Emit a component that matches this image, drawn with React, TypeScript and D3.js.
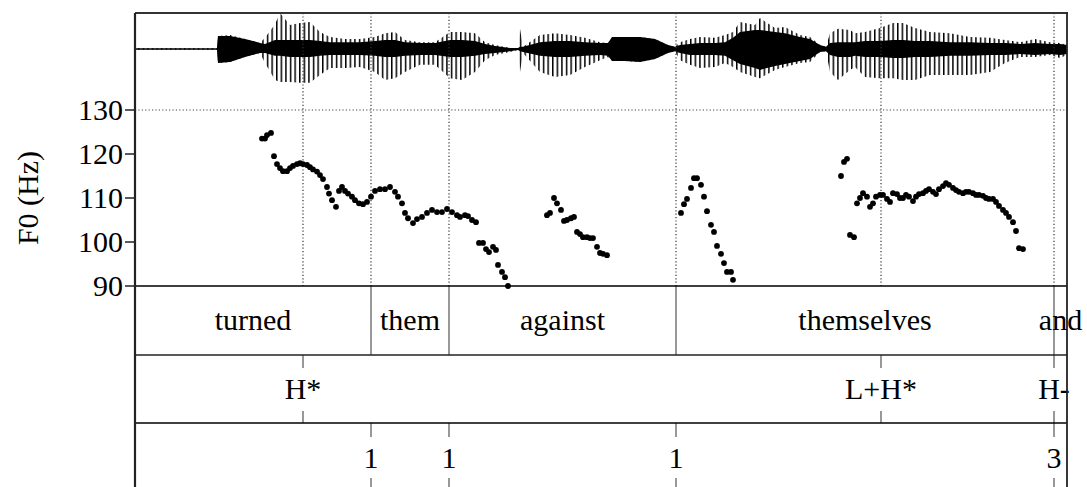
import React from "react";
import * as d3 from "d3";

// time in ms, F0 in Hz (each array is one voiced stretch)
const f0Seg1: [number, number][] = [
  [254, 123.5], [260, 123.5], [264, 124.3], [272, 124.8], [278, 119.5], [284, 117.7], [290, 116.8], [296, 116.1],
  [304, 116.1], [310, 116.8], [316, 117.3], [324, 117.7], [330, 117.9], [336, 117.7], [344, 117.5], [350, 117],
  [356, 116.5], [364, 116], [370, 115.2], [376, 114.3], [384, 112.5], [388, 111], [394, 109.5], [402, 108],
];
const f0Seg2: [number, number][] = [
  [408, 111.6], [414, 112.5], [420, 111.6], [426, 111], [434, 110.3], [440, 109.5], [448, 108.8], [456, 108.6],
  [464, 109.1], [472, 110.3], [480, 111.6], [490, 112], [500, 112], [510, 112.5], [520, 111.4], [526, 110.3],
  [534, 108.8], [540, 106.6], [546, 105.4], [556, 104.3], [564, 105.2], [574, 105.7], [584, 106.6], [594, 107.3],
  [604, 106.8], [614, 106.8], [624, 107.5], [634, 106.8], [644, 106.1], [650, 105.7], [660, 106.1], [666, 105.9],
  [674, 105], [682, 104.5],
];
const f0Seg3: [number, number][] = [
  [688, 99.8], [696, 99.8], [702, 98.4], [708, 97.7], [716, 98.9], [722, 98.2], [726, 94.8], [734, 93.2],
  [740, 92], [746, 90],
];
const f0Seg4: [number, number][] = [
  [824, 106.1], [830, 106.6], [838, 110], [844, 108.8], [852, 107.3], [858, 104.8], [864, 105], [872, 105.4],
  [878, 105.7], [884, 102.3], [890, 101.8], [896, 101.1], [904, 101.1], [910, 100.9], [916, 100.9], [924, 98.9],
  [930, 97.5], [936, 97.3], [944, 97],
];
const f0Seg5: [number, number][] = [
  [1092, 106.6], [1098, 108.6], [1104, 109.8], [1112, 112.3], [1118, 114.5], [1124, 114.5], [1132, 113], [1138, 110.3],
  [1144, 107], [1152, 103.9], [1158, 102.3], [1164, 99.1], [1172, 97.3], [1178, 95.2], [1184, 93.2], [1192, 93.2],
  [1196, 91.4],
];
const f0Seg6: [number, number][] = [
  [1412, 115], [1418, 118.2], [1424, 118.9], [1430, 101.6], [1438, 101.1], [1444, 108.8], [1450, 110], [1456, 111.1],
  [1464, 110.3], [1470, 108], [1476, 108.8], [1482, 110.3], [1490, 110.7], [1496, 110.7], [1504, 109.8], [1510, 109.1],
  [1516, 111.1], [1524, 110.9], [1530, 110], [1536, 110], [1542, 110.7], [1548, 110.3], [1556, 109.3], [1562, 110.3],
  [1568, 110.9], [1576, 111.1], [1582, 111.6], [1588, 112], [1596, 111.4], [1602, 110.9], [1608, 112], [1616, 112.7],
  [1622, 113.4], [1628, 113], [1636, 112.3], [1642, 111.8], [1648, 111.4], [1656, 111.1], [1662, 111.4], [1668, 111.4],
  [1676, 111.1], [1682, 110.7], [1688, 110.7], [1696, 110.5], [1702, 110], [1708, 109.8], [1716, 109.8], [1722, 109.1],
  [1728, 108.2], [1736, 107.3], [1742, 106.6], [1748, 105.7], [1756, 104.5], [1762, 102.5], [1768, 98.6], [1776, 98.4],
];

// waveform envelope: [time ms, peak max, peak min, body max, body min] (normalized amplitude)
const waveEnvelope: [number, number, number, number, number][] = [
  [0, 0.02, -0.02, 0.02, -0.02], [164, 0.02, -0.02, 0.02, -0.02], [166, 0.36, -0.39, 0.36, -0.39],
  [190, 0.39, -0.36, 0.36, -0.36], [220, 0.28, -0.22, 0.28, -0.22], [250, 0.17, -0.11, 0.17, -0.11],
  [260, 0.31, -0.39, 0.14, -0.11], [280, 0.69, -0.86, 0.25, -0.19], [290, 1.0, -0.92, 0.25, -0.19],
  [310, 0.67, -0.92, 0.25, -0.22], [330, 0.72, -0.94, 0.25, -0.22], [350, 0.75, -0.94, 0.25, -0.22],
  [370, 0.47, -0.72, 0.22, -0.19], [390, 0.33, -0.53, 0.19, -0.17], [420, 0.28, -0.53, 0.19, -0.17],
  [450, 0.28, -0.5, 0.19, -0.17], [480, 0.33, -0.64, 0.22, -0.19], [500, 0.44, -0.86, 0.25, -0.22],
  [520, 0.47, -0.81, 0.25, -0.22], [540, 0.25, -0.64, 0.19, -0.19], [570, 0.19, -0.44, 0.17, -0.17],
  [600, 0.19, -0.44, 0.17, -0.17], [630, 0.47, -0.81, 0.25, -0.22], [654, 0.47, -0.86, 0.25, -0.22],
  [680, 0.44, -0.64, 0.22, -0.19], [700, 0.19, -0.31, 0.14, -0.14], [720, 0.11, -0.17, 0.08, -0.11],
  [750, 0.03, -0.08, 0.03, -0.06], [766, 0.03, -0.03, 0.03, -0.03], [770, 0.56, -0.64, 0.06, -0.06],
  [776, 0.06, -0.11, 0.06, -0.08], [810, 0.39, -0.64, 0.19, -0.19], [840, 0.44, -0.78, 0.22, -0.22],
  [870, 0.39, -0.72, 0.22, -0.22], [900, 0.31, -0.5, 0.19, -0.19], [930, 0.19, -0.31, 0.17, -0.17],
  [946, 0.17, -0.22, 0.17, -0.19], [954, 0.33, -0.33, 0.33, -0.33], [980, 0.33, -0.33, 0.33, -0.33],
  [1010, 0.33, -0.36, 0.33, -0.36], [1040, 0.28, -0.28, 0.28, -0.28], [1066, 0.11, -0.11, 0.11, -0.11],
  [1080, 0.06, -0.06, 0.06, -0.06], [1090, 0.19, -0.31, 0.11, -0.11], [1110, 0.28, -0.44, 0.14, -0.17],
  [1130, 0.33, -0.53, 0.17, -0.17], [1160, 0.31, -0.5, 0.17, -0.17], [1180, 0.39, -0.39, 0.19, -0.19],
  [1196, 0.47, -0.5, 0.31, -0.31], [1210, 0.75, -0.64, 0.47, -0.42], [1240, 0.67, -0.78, 0.53, -0.53],
  [1250, 0.86, -0.81, 0.53, -0.58], [1280, 0.58, -0.58, 0.47, -0.47], [1300, 0.61, -0.5, 0.44, -0.42],
  [1330, 0.39, -0.39, 0.33, -0.33], [1350, 0.33, -0.36, 0.28, -0.28], [1370, 0.11, -0.08, 0.11, -0.08],
  [1382, 0.06, -0.06, 0.06, -0.06], [1390, 0.44, -0.64, 0.17, -0.17], [1406, 0.56, -0.86, 0.19, -0.22],
  [1430, 0.53, -0.58, 0.19, -0.22], [1440, 0.44, -0.5, 0.19, -0.19], [1460, 0.47, -0.78, 0.22, -0.22],
  [1490, 0.58, -0.81, 0.22, -0.22], [1516, 0.72, -0.81, 0.25, -0.25], [1536, 0.72, -0.86, 0.25, -0.25],
  [1560, 0.58, -0.86, 0.22, -0.22], [1590, 0.47, -0.72, 0.22, -0.22], [1630, 0.44, -0.72, 0.19, -0.19],
  [1670, 0.33, -0.72, 0.19, -0.19], [1710, 0.31, -0.64, 0.17, -0.17], [1740, 0.25, -0.39, 0.17, -0.17],
  [1770, 0.19, -0.22, 0.14, -0.14], [1800, 0.28, -0.22, 0.17, -0.17], [1830, 0.19, -0.17, 0.14, -0.14],
  [1850, 0.17, -0.25, 0.14, -0.17], [1864, 0.11, -0.17, 0.11, -0.14],
];

const words = ["turned", "them", "against", "themselves", "and"];
const wordBounds = [0, 472, 628, 1082, 1838, 1864];
const tones = ["H*", "L+H*", "H-"];
const toneTimes = [336, 1492, 1838];
const breaks = ["1", "1", "1", "3"];
const breakTimes = [472, 628, 1082, 1838];
const f0Ticks = [90, 100, 110, 120, 130];
const timeDomain = [0, 1864];

const FONT = "'Liberation Serif', 'Times New Roman', serif";

export default function App() {
  const left = 135, right = 1067, top = 13;
  const pitchBottom = 286, wordBottom = 355, toneBottom = 423, breakBottom = 495;
  const x = d3.scaleLinear().domain(timeDomain).range([left, right]);
  const y = d3.scaleLinear().domain([90, 130]).range([pitchBottom, 110]);
  const yw = d3.scaleLinear().domain([-1, 1]).range([85, 13]);

  type Env = [number, number, number, number, number];
  const outerArea = d3.area<Env>().x(d => x(d[0])).y0(d => yw(d[2])).y1(d => yw(d[1]));
  const coreArea = d3.area<Env>().x(d => x(d[0])).y0(d => yw(d[4])).y1(d => yw(d[3]));

  const segs = [f0Seg1, f0Seg2, f0Seg3, f0Seg4, f0Seg5, f0Seg6];
  const vDotted = Array.from(new Set([...toneTimes, ...wordBounds.slice(1, 5)])).sort((a, b) => a - b);
  const fs = 30;

  return (
    <svg width={1087} height={487} style={{ position: "absolute", left: 0, top: 0, background: "#fff" }}
      fontFamily={FONT}>
      <defs>
        <pattern id="pulses" patternUnits="userSpaceOnUse" width={4.6} height={10}>
          <rect x={0} y={0} width={1.5} height={10} fill="#000" />
        </pattern>
        <clipPath id="plotClip">
          <rect x={left} y={top} width={right - left} height={pitchBottom - top + 3} />
        </clipPath>
      </defs>

      {/* waveform */}
      <path d={outerArea(waveEnvelope) || ""} fill="url(#pulses)" />
      <path d={coreArea(waveEnvelope) || ""} fill="#000" />

      {/* dotted grid */}
      <line x1={left} x2={right} y1={y(130)} y2={y(130)} stroke="#444" strokeWidth={1.1} strokeDasharray="1.2 2.2" />
      {vDotted.map((t, i) => (
        <line key={i} x1={x(t)} x2={x(t)} y1={top} y2={pitchBottom} stroke="#333" strokeWidth={1.2} strokeDasharray="1.2 2.2" />
      ))}

      {/* F0 points */}
      <g clipPath="url(#plotClip)">
        {segs.map((s, si) => s.map((d, i) => (
          <circle key={si + "-" + i} cx={x(d[0])} cy={y(d[1])} r={2.9} fill="#000" />
        )))}
      </g>

      {/* y axis */}
      {f0Ticks.map(v => (
        <g key={v}>
          <line x1={125} x2={left} y1={y(v)} y2={y(v)} stroke="#000" strokeWidth={1.3} />
          <text x={123} y={y(v)} dy="0.34em" textAnchor="end" fontSize={fs}>{v}</text>
        </g>
      ))}
      <text transform={`translate(28,${(y(90) + y(130)) / 2}) rotate(-90)`} dy="0.34em" textAnchor="middle" fontSize={fs}>F0 (Hz)</text>

      {/* word tier */}
      {wordBounds.slice(1, 5).map((t, i) => (
        <line key={i} x1={x(t)} x2={x(t)} y1={pitchBottom} y2={wordBottom} stroke="#444" strokeWidth={1.1} />
      ))}
      {words.map((w, i) => (
        <text key={w} x={x((wordBounds[i] + wordBounds[i + 1]) / 2)} y={330} textAnchor="middle" fontSize={fs}>{w}</text>
      ))}

      {/* tone tier */}
      {toneTimes.map((t, i) => (
        <g key={i}>
          <line x1={x(t)} x2={x(t)} y1={wordBottom} y2={368} stroke="#444" strokeWidth={1.1} />
          <line x1={x(t)} x2={x(t)} y1={411} y2={toneBottom} stroke="#444" strokeWidth={1.1} />
          <text x={x(t)} y={399} textAnchor="middle" fontSize={fs}>{tones[i]}</text>
        </g>
      ))}

      {/* break tier */}
      {breakTimes.map((t, i) => (
        <g key={i}>
          <line x1={x(t)} x2={x(t)} y1={toneBottom} y2={437} stroke="#444" strokeWidth={1.1} />
          <line x1={x(t)} x2={x(t)} y1={478} y2={breakBottom} stroke="#444" strokeWidth={1.1} />
          <text x={x(t)} y={468} textAnchor="middle" fontSize={fs}>{breaks[i]}</text>
        </g>
      ))}

      {/* frame */}
      <line x1={left} x2={right} y1={pitchBottom} y2={pitchBottom} stroke="#000" strokeWidth={1.5} />
      <line x1={left} x2={right} y1={wordBottom} y2={wordBottom} stroke="#222" strokeWidth={1.5} />
      <line x1={left} x2={right} y1={toneBottom} y2={toneBottom} stroke="#000" strokeWidth={1.5} />
      <line x1={left} x2={right + 1} y1={top} y2={top} stroke="#333" strokeWidth={2.2} />
      <line x1={left} x2={left} y1={top} y2={breakBottom} stroke="#222" strokeWidth={2.2} />
      <line x1={right} x2={right} y1={top} y2={breakBottom} stroke="#222" strokeWidth={1.8} />
    </svg>
  );
}
